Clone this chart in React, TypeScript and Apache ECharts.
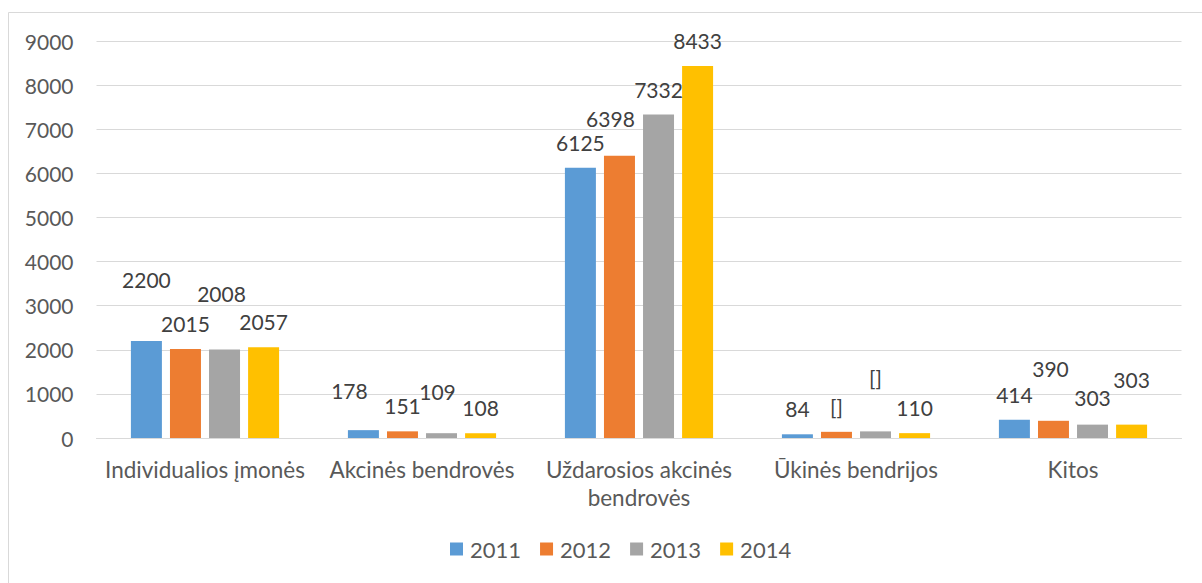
import React, { useEffect, useRef } from "react";
import * as echarts from "echarts";

const categories = [
  "Individualios įmonės",
  "Akcinės bendrovės",
  "Uždarosios akcinės bendrovės",
  "Ūkinės bendrijos",
  "Kitos",
];
const years = ["2011", "2012", "2013", "2014"];
const values2011 = [2200, 178, 6125, 84, 414];
const values2012 = [2015, 151, 6398, 140, 390];
const values2013 = [2008, 109, 7332, 150, 303];
const values2014 = [2057, 108, 8433, 110, 303];
const yTicks = [0, 1000, 2000, 3000, 4000, 5000, 6000, 7000, 8000, 9000];
// labels shown as "[]" in the source (year -> category index)
const labelTextOverrides: Record<string, Record<number, string>> = {
  "2012": { 3: "[]" },
  "2013": { 3: "[]" },
};

// layout-only: manual label nudges, [dx, dy] px, per year per category
const labelNudges: Record<string, number[][]> = {
  "2011": [[0, -36], [-14, -14], [0, 0], [0, 0], [0, 0]],
  "2012": [[0, 0], [0, 0], [-9, -12], [0, 0], [-3, -27]],
  "2013": [[-3, -30], [-4, -16], [0, 0], [0, -28], [0, -2]],
  "2014": [[0, 0], [0, 0], [0, 0], [0, 0], [0, -20]],
};

const colors = ["#5B9BD5", "#ED7D31", "#A5A5A5", "#FFC000"];
const FONT = "Lato, 'Liberation Sans', sans-serif";

export default function App() {
  const ref = useRef<HTMLDivElement>(null);
  useEffect(() => {
    if (!ref.current) return;
    const chart = echarts.init(ref.current, undefined, { renderer: "svg" });
    const seriesValues = [values2011, values2012, values2013, values2014];
    const series = years.map((y, si) => ({
      name: y,
      type: "bar",
      barWidth: 31,
      barGap: "26%",
      barCategoryGap: "32%",
      itemStyle: { color: colors[si] },
      label: {
        show: true,
        position: "top",
        distance: 15,
        color: "#404040",
        fontSize: 21,
        fontFamily: FONT,
      },
      data: seriesValues[si].map((v, ci) => {
        const ov = labelTextOverrides[y]?.[ci];
        const nudge = labelNudges[y][ci];
        const label: any = { offset: nudge };
        if (ov) label.formatter = ov;
        return { value: v, label };
      }),
    }));
    chart.setOption({
      animation: false,
      color: colors,
      grid: { left: 96.5, right: 20.5, top: 41, bottom: 145, containLabel: false },
      xAxis: {
        type: "category",
        data: categories,
        axisTick: { show: false },
        axisLine: { lineStyle: { color: "#D9D9D9", width: 1 } },
        axisLabel: {
          color: "#595959",
          fontSize: 22.5,
          fontFamily: FONT,
          margin: 17,
          lineHeight: 28,
          interval: 0,
          formatter: (t: string) => {
            if (t.length > 22) {
              const i = t.lastIndexOf(" ");
              return t.slice(0, i) + "\n" + t.slice(i + 1);
            }
            return t;
          },
        },
      },
      yAxis: {
        type: "value",
        min: yTicks[0],
        max: yTicks[yTicks.length - 1],
        interval: yTicks[1] - yTicks[0],
        axisLine: { show: false },
        axisTick: { show: false },
        splitLine: { lineStyle: { color: "#D9D9D9", width: 1 } },
        axisLabel: {
          color: "#595959",
          fontSize: 21,
          fontFamily: FONT,
          margin: 23,
          formatter: (v: number) => String(v),
        },
      },
      legend: {
        data: years,
        bottom: 18,
        left: 445,
        itemWidth: 13,
        itemHeight: 13,
        itemGap: 19,
        icon: "rect",
        textStyle: { color: "#595959", fontSize: 22, fontFamily: FONT, padding: [0, 0, 0, 2] },
      },
      graphic: [
        {
          type: "rect",
          shape: { x: 8.5, y: 12.5, width: 1400, height: 800 },
          style: { fill: "none", stroke: "#D9D9D9", lineWidth: 1 },
          silent: true,
        },
      ],
      series,
    });
    return () => chart.dispose();
  }, []);
  return (
    <div
      ref={ref}
      style={{ position: "absolute", left: 0, top: 0, width: 1202, height: 583, background: "#fff" }}
    />
  );
}
